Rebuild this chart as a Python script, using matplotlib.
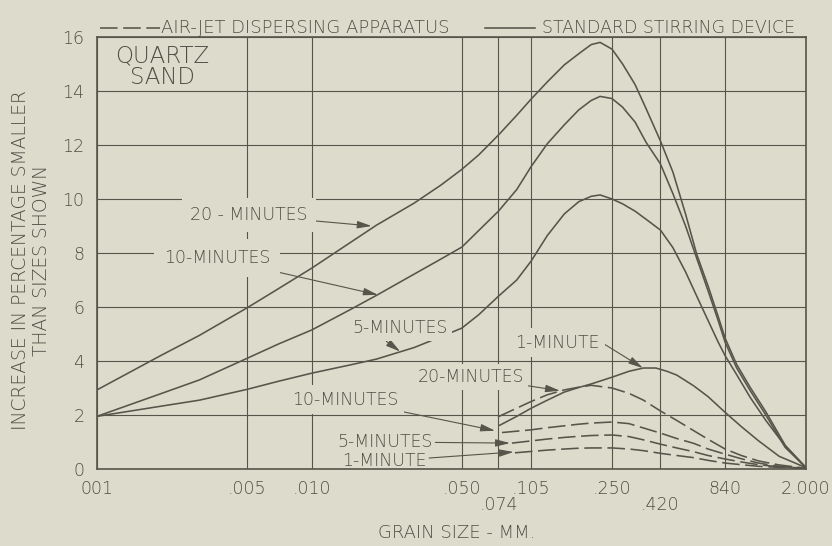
"""
Quartz sand: increase in percentage smaller than sizes shown,
air-jet dispersing apparatus vs. standard stirring device.
"""
import matplotlib
matplotlib.use('Agg')
import matplotlib.pyplot as plt
from matplotlib.lines import Line2D
from matplotlib.ticker import NullLocator

plt.rcParams.update({
    'font.family': ['DejaVu Sans'],
    'font.weight': 'light',
    'font.size': 12,
})

PAPER = '#dddbcb'
INK = '#55554b'
TEXT = '#4e4e46'

# grain size axis (mm); the crowded sizes get their label on a second row
X_TICKS = [0.001, 0.005, 0.010, 0.050, 0.074, 0.105, 0.250, 0.420, 0.840, 2.000]
X_TICK_LABELS = ['001', '.005', '.010', '.050', '.074', '.105', '.250', '.420', '840', '2.000']
X_LOWER_ROW = [0.074, 0.420]
Y_TICKS = [0, 2, 4, 6, 8, 10, 12, 14, 16]

# standard stirring device (solid)
X_STIR = [0.001, 0.002, 0.003, 0.005, 0.007, 0.010, 0.015, 0.020, 0.030, 0.040,
          0.050, 0.060, 0.074, 0.090, 0.105, 0.125, 0.15, 0.175, 0.20, 0.22,
          0.25, 0.28, 0.32, 0.36, 0.42, 0.48, 0.55, 0.62, 0.70, 0.78,
          0.84, 0.95, 1.1, 1.3, 1.6, 2.0]
STIR_20 = [2.93, 4.22, 4.95, 5.97, 6.68, 7.44, 8.37, 9.03, 9.85, 10.52,
           11.1, 11.64, 12.37, 13.1, 13.7, 14.34, 14.97, 15.38, 15.72, 15.8,
           15.55, 15.0, 14.24, 13.35, 12.15, 11.0, 9.44, 7.95, 6.78, 5.65,
           4.85, 3.88, 3.02, 2.12, 0.88, 0.05]
STIR_10 = [1.95, 2.8, 3.3, 4.1, 4.63, 5.15, 5.89, 6.43, 7.22, 7.78,
           8.22, 8.84, 9.55, 10.35, 11.2, 12.05, 12.75, 13.3, 13.65, 13.8,
           13.72, 13.4, 12.85, 12.1, 11.3, 10.2, 9.0, 7.8, 6.6, 5.5,
           4.7, 3.75, 2.9, 2.0, 0.8, 0.05]
STIR_5 = [1.95, 2.33, 2.55, 2.95, 3.25, 3.55, 3.85, 4.07, 4.5, 4.9,
          5.22, 5.72, 6.4, 7.0, 7.7, 8.65, 9.45, 9.9, 10.1, 10.15,
          10.0, 9.82, 9.55, 9.25, 8.85, 8.2, 7.3, 6.4, 5.5, 4.7,
          4.2, 3.5, 2.65, 1.8, 0.85, 0.05]
X_STIR_1 = [0.075, 0.09, 0.105, 0.125, 0.15, 0.175, 0.20, 0.25, 0.30, 0.35,
            0.40, 0.45, 0.50, 0.60, 0.70, 0.84, 1.0, 1.2, 1.5, 2.0]
STIR_1 = [1.62, 1.95, 2.25, 2.55, 2.85, 3.02, 3.15, 3.4, 3.62, 3.74,
          3.74, 3.62, 3.48, 3.08, 2.68, 2.1, 1.57, 1.05, 0.47, 0.05]

# air-jet dispersing apparatus (dashed)
X_JET = [0.105, 0.125, 0.15, 0.175, 0.20, 0.25, 0.30, 0.35, 0.42, 0.50,
         0.60, 0.70, 0.84, 1.0, 1.2, 1.5, 2.0]
X_JET_20 = [0.0736] + X_JET
JET_20 = [1.93, 2.5, 2.75, 2.93, 3.03, 3.1, 3.0, 2.8, 2.55, 2.15, 1.8,
          1.42, 1.1, 0.74, 0.5, 0.3, 0.15, 0.03]
X_JET_10 = [0.0768] + X_JET
JET_10 = [1.35, 1.45, 1.53, 1.6, 1.66, 1.7, 1.74, 1.68, 1.52, 1.33, 1.13,
          0.95, 0.74, 0.55, 0.38, 0.22, 0.1, 0.03]
X_JET_5 = [0.0855] + X_JET
JET_5 = [0.96, 1.04, 1.11, 1.17, 1.21, 1.24, 1.26, 1.2, 1.08, 0.92, 0.78,
         0.64, 0.5, 0.37, 0.26, 0.16, 0.08, 0.03]
X_JET_1 = [0.0883] + X_JET
JET_1 = [0.6, 0.65, 0.7, 0.74, 0.77, 0.78, 0.78, 0.74, 0.68, 0.58, 0.5,
         0.42, 0.32, 0.22, 0.16, 0.1, 0.06, 0.02]

DASH = (11, 3.5)

fig = plt.figure(figsize=(8.32, 5.46), dpi=100, facecolor=PAPER)
ax = fig.add_axes([97 / 832, 1 - 469 / 546, 709 / 832, 432 / 546], facecolor=PAPER)

solid_kw = dict(color=INK, lw=1.15, solid_joinstyle='round', zorder=2)
dash_kw = dict(color=INK, lw=1.15, dashes=DASH, zorder=2)
ax.plot(X_STIR, STIR_20, **solid_kw)
ax.plot(X_STIR, STIR_10, **solid_kw)
ax.plot(X_STIR, STIR_5, **solid_kw)
ax.plot(X_STIR_1, STIR_1, **solid_kw)
ax.plot(X_JET_20, JET_20, **dash_kw)
ax.plot(X_JET_10, JET_10, **dash_kw)
ax.plot(X_JET_5, JET_5, **dash_kw)
ax.plot(X_JET_1, JET_1, **dash_kw)

ax.set_xscale('log')
ax.set_xlim(0.001, 2.0)
ax.set_ylim(0, 16)
ax.set_xticks(X_TICKS)
ax.set_xticklabels([('' if x in X_LOWER_ROW else s)
                    for x, s in zip(X_TICKS, X_TICK_LABELS)])
ax.xaxis.set_minor_locator(NullLocator())
ax.set_yticks(Y_TICKS)
ax.set_yticklabels([str(v) for v in Y_TICKS])
ax.tick_params(length=0, labelsize=12.5, labelcolor=TEXT)
ax.tick_params(axis='x', pad=8)
ax.tick_params(axis='y', pad=9)
for x, s in zip(X_TICKS, X_TICK_LABELS):
    if x in X_LOWER_ROW:
        ax.annotate(s, xy=(x, 0), xycoords=('data', 'axes fraction'),
                    xytext=(0, -26), textcoords='offset points',
                    ha='center', va='center', fontsize=12.5, color=TEXT)
ax.grid(True, color=INK, lw=0.8, zorder=0)
ax.set_axisbelow(True)
for s in ax.spines.values():
    s.set_color(INK)
    s.set_linewidth(1.2)

# curve labels; the paper-coloured box blanks the grid behind the lettering


def label(text, tip, pos, box=True, pad=4, relpos=(0.5, 0.5)):
    bbox = dict(facecolor=PAPER, edgecolor='none', pad=pad) if box else None
    arrow_kw = dict(arrowstyle='-|>,head_length=0.7,head_width=0.18', color=INK,
                    lw=0.8, shrinkA=0, shrinkB=0, relpos=relpos)
    ax.annotate(text, xy=tip, xycoords='data', xytext=pos,
                textcoords='axes fraction', ha='center', va='center',
                fontsize=12.5, color=TEXT, bbox=bbox, arrowprops=arrow_kw,
                zorder=3)


label('20 - MINUTES', (0.019, 9.0), (0.214, 0.588), pad=6)
label('10-MINUTES', (0.0203, 6.45), (0.169, 0.488), pad=7)
label('5-MINUTES', (0.0258, 4.35), (0.427, 0.326), pad=3, relpos=(0.3, 0.0))
label('1-MINUTE', (0.348, 3.74), (0.649, 0.292), pad=4, relpos=(1.0, 0.6))
label('20-MINUTES', (0.143, 2.9), (0.527, 0.213), pad=3)
label('10-MINUTES', (0.0713, 1.42), (0.350, 0.160), pad=4)
label('5-MINUTES', (0.0837, 0.96), (0.406, 0.0625), box=False)
label('1-MINUTE', (0.087, 0.63), (0.405, 0.018), box=False)

ax.text(0.0917, 0.931, 'QUARTZ\nSAND', transform=ax.transAxes, ha='center',
        va='center', fontsize=16.5, color=TEXT, linespacing=0.9)

# key along the top
ky = 1 - 28 / 546
fig.add_artist(Line2D([100 / 832, 160 / 832], [ky, ky], transform=fig.transFigure,
                      color=INK, lw=1.15, dashes=DASH))
fig.text(161 / 832, ky, 'AIR-JET DISPERSING APPARATUS', ha='left', va='center',
         fontsize=13, color=TEXT)
fig.add_artist(Line2D([485 / 832, 535 / 832], [ky, ky], transform=fig.transFigure,
                      color=INK, lw=1.15))
fig.text(542 / 832, ky, 'STANDARD STIRRING DEVICE', ha='left', va='center',
         fontsize=12.5, color=TEXT)

fig.text(31 / 832, 1 - 260 / 546, 'INCREASE IN PERCENTAGE SMALLER\nTHAN SIZES SHOWN',
         rotation=90, ha='center', va='center', multialignment='center',
         fontsize=13.5, color=TEXT, linespacing=1.1)
fig.text(457 / 832, 1 - 533 / 546, 'GRAIN SIZE - MM.', ha='center', va='center',
         fontsize=13, color=TEXT)

fig.savefig('out.png', dpi=100, facecolor=PAPER)
